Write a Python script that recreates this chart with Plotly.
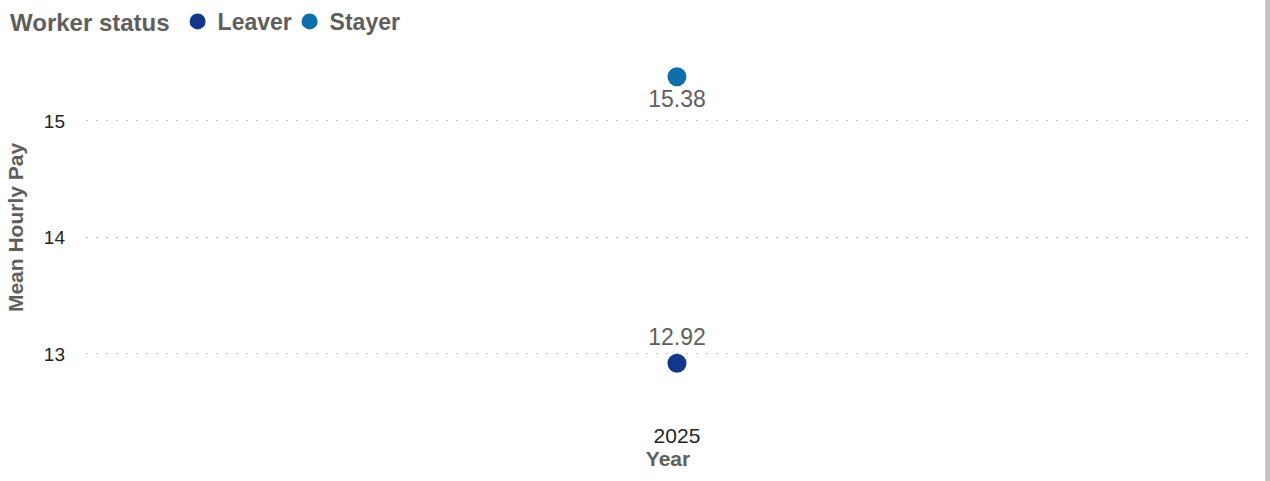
import plotly.graph_objects as go

# Mean hourly pay by worker status
years = ["2025"]
statuses = ["Leaver", "Stayer"]
leaver_pay = [12.92]
stayer_pay = [15.38]
colors = {"Leaver": "#12368c", "Stayer": "#0e6eab"}
label_pos = {"Leaver": "top center", "Stayer": "bottom center"}
y_ticks = [13, 14, 15]

font_family = "Liberation Sans, Arial, sans-serif"
grey_text = "#605e5c"

fig = go.Figure()
for name, vals in zip(statuses, [leaver_pay, stayer_pay]):
    fig.add_trace(go.Scatter(
        x=years, y=vals, name=f"<b>{name}</b>", mode="markers+text",
        marker=dict(size=19, color=colors[name]),
        text=[f"{v:.2f}" for v in vals],
        textposition=label_pos[name],
        textfont=dict(size=23, color=grey_text, family=font_family),
        cliponaxis=False,
    ))

fig.update_layout(
    width=1270, height=481,
    paper_bgcolor="#ffffff",
    plot_bgcolor="#ffffff",
    font=dict(family=font_family, color="#252423"),
    margin=dict(l=86, r=20, t=40, b=66, autoexpand=False),
    showlegend=True,
    legend=dict(
        orientation="h", x=0.0063, y=1.0, xref="container", yref="container",
        xanchor="left", yanchor="top",
        title=dict(text="<b>Worker status</b>", font=dict(size=24, color=grey_text)),
        font=dict(size=23, color=grey_text),
        itemsizing="trace", itemwidth=30, tracegroupgap=0,
        entrywidth=67, traceorder="normal",
    ),
    xaxis=dict(
        type="category", range=[-0.5077, 0.4923],
        showgrid=False, zeroline=False, showline=False,
        tickfont=dict(size=21, color="#252423"),
        title=dict(text="<b>Year</b>", font=dict(size=21, color=grey_text), standoff=0),
        ticks="", ticklabelstandoff=6,
    ),
    yaxis=dict(
        range=[12.476, 15.695], tickvals=y_ticks,
        showgrid=True, gridcolor="#c8c8c8", gridwidth=1, griddash="2px,8px",
        zeroline=False, showline=False,
        tickfont=dict(size=19, color="#252423"),
        ticks="", ticklabelstandoff=20,
        title=dict(text="<b>Mean Hourly Pay</b>", font=dict(size=21, color=grey_text), standoff=14),
    ),
    shapes=[dict(type="rect", xref="paper", yref="paper", x0=1.0131, x1=1.02,
                 y0=-0.2, y1=1.2, fillcolor="#c1c2c6", line=dict(width=0), layer="above")],
)

# drop the default page margin so the chart sits at the window's top-left corner
fig.write_html("out.html", config={"displayModeBar": False},
               post_script="document.body.style.margin='0';")
